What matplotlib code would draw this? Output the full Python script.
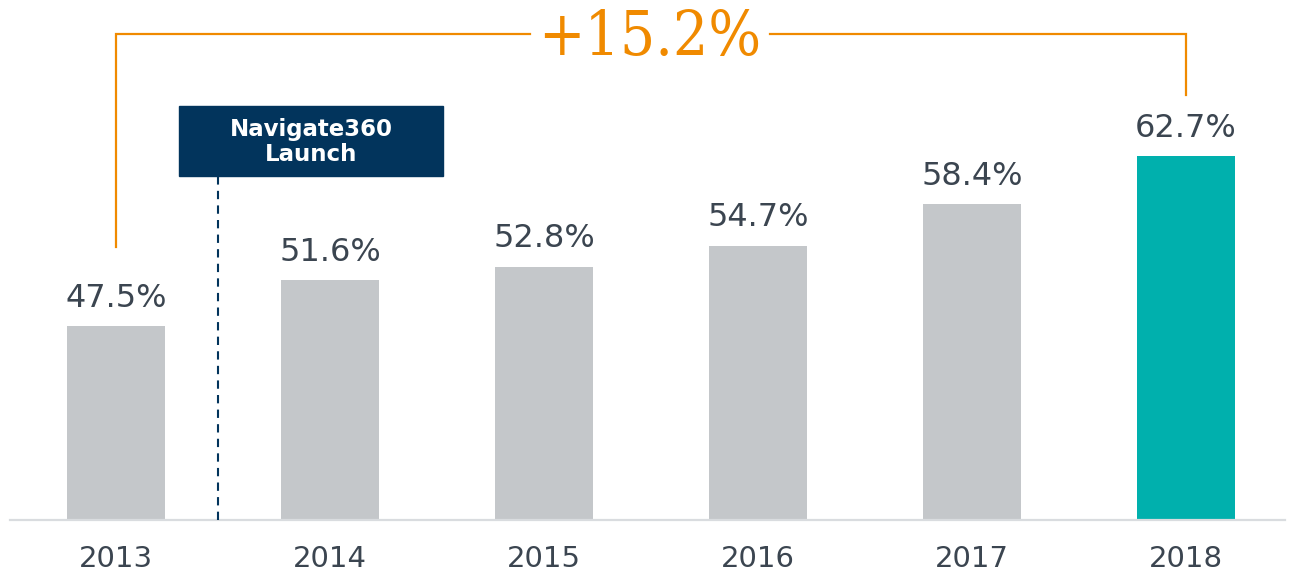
import matplotlib
matplotlib.use("Agg")
import matplotlib.pyplot as plt
from matplotlib.patches import Rectangle

years = ["2013", "2014", "2015", "2016", "2017", "2018"]
values = [47.5, 51.6, 52.8, 54.7, 58.4, 62.7]
value_labels = ["47.5%", "51.6%", "52.8%", "54.7%", "58.4%", "62.7%"]
change_label = "+15.2%"
launch_label = "Navigate360\nLaunch"

GRAY = "#C4C7CA"
TEAL = "#00B0AD"
ORANGE = "#F08A00"
NAVY = "#02345C"
TEXT = "#3B4550"

fig = plt.figure(figsize=(12.89, 5.71), dpi=100)
ax = fig.add_axes([10/1289, 51/571, 1275/1289, 520/571])
x = list(range(len(years)))
colors = [GRAY] * (len(years) - 1) + [TEAL]
ax.bar(x, values, width=0.46, color=colors, zorder=2)

ymin = 30.15
ax.set_ylim(ymin, ymin + 520/11.18)
ax.set_xlim((10-116)/214, (1285-116)/214)
for s in ["top", "right", "left"]:
    ax.spines[s].set_visible(False)
ax.spines["bottom"].set_color("#D9DCDF")
ax.spines["bottom"].set_linewidth(1.6)
ax.set_yticks([])
ax.set_xticks(x)
ax.set_xticklabels(years, fontsize=21, color=TEXT, family="DejaVu Sans")
ax.tick_params(axis="x", length=0, pad=18)

for xi, v, lab in zip(x, values, value_labels):
    ax.annotate(lab, (xi, v), xytext=(0, 9), textcoords="offset points",
                ha="center", va="bottom", fontsize=23, color=TEXT,
                family="DejaVu Sans")

# Launch marker
lx = 0.477
box_bottom, box_top = 60.9, 67.2
ax.plot([lx, lx], [ymin, box_bottom], color=NAVY, lw=1.5,
        dashes=(4, 3), clip_on=False, zorder=3)
ax.add_patch(Rectangle((0.294, box_bottom), 1.528-0.294, box_top-box_bottom,
                       color=NAVY, clip_on=False, zorder=4))
ax.text((0.294+1.528)/2, (box_bottom+box_top)/2 - 0.1, launch_label, ha="center",
        va="center", color="white", fontsize=16.5, fontweight="bold",
        family="DejaVu Sans", linespacing=1.1, zorder=5)

# Bracket
top = 73.6
left_bottom = values[0] + 7.05
right_bottom = values[-1] + 5.5
gap_l, gap_r = (530-116)/214, (770-116)/214
ax.plot([x[0], x[0], gap_l], [left_bottom, top, top], color=ORANGE, lw=1.6,
        clip_on=False, solid_joinstyle="miter")
ax.plot([gap_r, x[-1], x[-1]], [top, top, right_bottom], color=ORANGE, lw=1.6,
        clip_on=False, solid_joinstyle="miter")
ax.text((gap_l+gap_r)/2, top - 0.3, change_label, ha="center", va="center",
        fontsize=44.5, color=ORANGE, family="DejaVu Serif",
        fontstretch="condensed", fontweight="light")

fig.savefig("out.png", dpi=100)
